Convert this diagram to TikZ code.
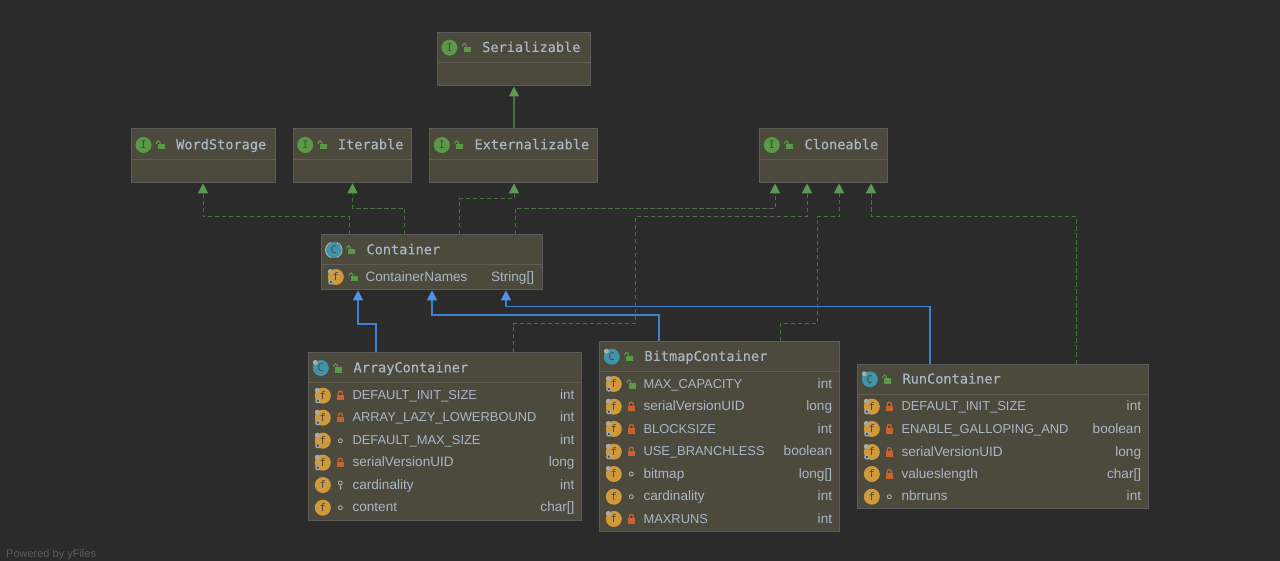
\documentclass[tikz,border=0pt]{standalone}
\usepackage{fontspec}
\setsansfont{Liberation Sans}
\setmonofont{DejaVu Sans Mono}
\newfontfamily\titlefont[FakeBold=0.3]{DejaVu Sans Mono}
\usetikzlibrary{arrows.meta}
\definecolor{canvasbg}{HTML}{2B2B2B}
\definecolor{boxfill}{HTML}{4C493D}
\definecolor{boxline}{HTML}{5C5C5C}
\definecolor{rowline}{HTML}{5F5C50}
\definecolor{labeltext}{HTML}{A9B7C6}
\definecolor{depline}{HTML}{477340}
\definecolor{deptip}{HTML}{5C9A50}
\definecolor{extline}{HTML}{4080D0}
\definecolor{exttip}{HTML}{4D94E8}
\definecolor{fieldorange}{HTML}{D09A3C}
\definecolor{classteal}{HTML}{3F94AC}
\definecolor{ifacegreen}{HTML}{5A9A46}
\definecolor{lockred}{HTML}{C8632F}
\definecolor{markgrey}{HTML}{A8ACA8}
\tikzset{
  umlbox/.style = {draw=boxline, fill=boxfill, line width=1pt, anchor=north west, inner sep=0pt},
  rowsep/.style = {draw=rowline, line width=0.8pt},
  titletext/.style = {text=labeltext, anchor=west, inner sep=0pt, text height=11.5pt, text depth=3pt, font=\titlefont\fontsize{13.6}{14}\selectfont},
  fieldtext/.style = {text=labeltext, anchor=west, inner sep=0pt, text height=11.5pt, text depth=3pt, font=\sffamily\fontsize{13.6}{14}\selectfont},
  typetext/.style = {text=labeltext, anchor=east, inner sep=0pt, text height=11.5pt, text depth=3pt, font=\sffamily\fontsize{13.6}{14}\selectfont},
  iconcirc/.style = {circle, minimum size=16pt, inner sep=0pt, text=boxfill, font=\ttfamily\fontsize{10.5}{10.5}\selectfont},
  dep/.style = {draw=depline, line width=1pt, dash pattern=on 4.5pt off 2.5pt, -{Triangle[width=10pt,length=10pt,color=deptip]}},
  inherit/.style = {draw=depline, line width=1.2pt, -{Triangle[width=10pt,length=10pt,color=deptip]}},
  ext/.style = {draw=extline, line width=1.1pt, -{Triangle[width=10pt,length=10pt,color=exttip]}},
  public/.pic = {
    \fill[ifacegreen] (-2.5,-1) rectangle (4.5,4.5);
    \draw[ifacegreen, line width=1.1pt] (-4,-1) -- (-4,-2.5) arc (180:360:1.8) -- (-0.4,-1);
  },
  private/.pic = {
    \fill[lockred] (-3.5,-1) rectangle (3.5,4.5);
    \draw[lockred, line width=1.3pt] (-2,-1) -- (-2,-2.5) arc (180:360:2) -- (2,-1);
  },
  package/.pic = {
    \draw[markgrey, line width=0.9pt] (0,0) circle (2);
  },
  protect/.pic = {
    \draw[markgrey, line width=0.9pt] (0,-2) circle (2) (0,0) -- (0,4.5) (0,3) -- (1.8,3);
  },
  pinmark/.pic = {
    \fill[markgrey] (-5.5,-5.5) circle (2.5);
  },
  gearmark/.pic = {
    \draw[markgrey, line width=1.3pt, fill=boxfill] (-5,5) circle (2);
  },
  abstractmark/.pic = {
    \draw[markgrey, line width=1pt] (-3,-7.5) arc (-110:-250:8) (3,-7.5) arc (-70:70:8);
  },
}
% header of a box: name, left x, y, icon colour, letter, title
\newcommand{\boxhead}[6]{
  \node[iconcirc, fill=#4] (#1-icon) at (#2+12.5,#3) {#5};
  \pic at (#2+29.5,#3) {public};
  \node[titletext] (#1-title) at (#2+45,#3) {#6};
}
% caps run narrower in the reference's field font
\newcommand{\capname}[1]{\fontsize{12.9}{14}\selectfont #1}
% one field row: box, left x, right x, count, y, marks, visibility, name, type
\newcommand{\fieldrow}[9]{
  \node[iconcirc, fill=fieldorange] (#1-f#4) at (#2+14.5,#5) {f};
  \ifnum#6>0 \pic at (#2+14.5,#5) {pinmark}; \fi
  \ifnum#6>1 \pic at (#2+14.5,#5) {gearmark}; \fi
  \pic at (#2+32,#5) {#7};
  \node[fieldtext] (#1-n#4) at (#2+44,#5) {#8};
  \node[typetext] (#1-t#4) at (#3-7,#5) {#9};
}
\begin{document}
\begin{tikzpicture}[x=1pt, y=-1pt]
    \path[fill=canvasbg, use as bounding box] (0,0) rectangle (1280,561);

    % interfaces
    \node[umlbox, minimum width=152.5pt, minimum height=53.5pt] (serializable) at (437,32) {};
    \node[umlbox, minimum width=143.5pt, minimum height=53.8pt] (wordstorage) at (131,128.5) {};
    \node[umlbox, minimum width=118.5pt, minimum height=53.8pt] (iterable) at (292.7,128.5) {};
    \node[umlbox, minimum width=168pt, minimum height=53.8pt] (externalizable) at (429.3,128.5) {};
    \node[umlbox, minimum width=127.5pt, minimum height=53.8pt] (cloneable) at (759.3,128.5) {};
    \draw[rowsep] (437,62.3) -- (590,62.3);
    \draw[rowsep] (131,159) -- (275,159);
    \draw[rowsep] (292.7,159) -- (411.7,159);
    \draw[rowsep] (429.3,159) -- (597.7,159);
    \draw[rowsep] (759.3,159) -- (887.3,159);
    \boxhead{serializable}{437}{47.7}{ifacegreen}{I}{Serializable}
    \boxhead{wordstorage}{131}{145}{ifacegreen}{I}{WordStorage}
    \boxhead{iterable}{292.7}{145}{ifacegreen}{I}{Iterable}
    \boxhead{externalizable}{429.3}{145}{ifacegreen}{I}{Externalizable}
    \boxhead{cloneable}{759.3}{145}{ifacegreen}{I}{Cloneable}

    % classes
    \node[umlbox, minimum width=220.5pt, minimum height=55pt] (container) at (321.3,234.3) {};
    \node[umlbox, minimum width=273pt, minimum height=167.3pt] (arraybox) at (308.3,352.5) {};
    \node[umlbox, minimum width=240pt, minimum height=189pt] (bitmapbox) at (599.3,341.5) {};
    \node[umlbox, minimum width=291pt, minimum height=144pt] (runbox) at (857.3,364) {};
    \draw[rowsep] (321.3,264.3) -- (541.8,264.3);
    \draw[rowsep] (308.3,382.3) -- (581.3,382.3);
    \draw[rowsep] (599.3,371) -- (839.3,371);
    \draw[rowsep] (857.3,394) -- (1148.3,394);
    \boxhead{container}{321.3}{250}{classteal}{C}{Container}
    \boxhead{arraybox}{308.3}{368}{classteal}{C}{ArrayContainer}
    \boxhead{bitmapbox}{599.3}{356.7}{classteal}{C}{BitmapContainer}
    \boxhead{runbox}{857.3}{379.3}{classteal}{C}{RunContainer}
    \pic at (333.8,250) {abstractmark};
    \pic at (320.8,368) {pinmark};
    \pic at (611.8,356.7) {pinmark};
    \pic at (869.8,379.3) {pinmark};

    % fields
    \fieldrow{container}{321.3}{541.3}{1}{277}{2}{public}{ContainerNames}{String[]}
    \foreach \y/\st/\vis/\fname/\ftype [count=\i] in {
        395.7/2/private/\capname{DEFAULT\_INIT\_SIZE}/int,
        417.7/2/private/\capname{ARRAY\_LAZY\_LOWERBOUND}/int,
        440.7/2/package/\capname{DEFAULT\_MAX\_SIZE}/int,
        462.7/2/private/serialVersionUID/long,
        485/0/protect/cardinality/int,
        507.7/0/package/content/char[]} {
        \fieldrow{arraybox}{308.3}{581.7}{\i}{\y}{\st}{\vis}{\fname}{\ftype}
    }
    \foreach \y/\st/\vis/\fname/\ftype [count=\i] in {
        384/2/public/\capname{MAX\_CAPACITY}/int,
        406.7/2/private/serialVersionUID/long,
        429/2/private/\capname{BLOCKSIZE}/int,
        451.7/2/private/\capname{USE\_BRANCHLESS}/boolean,
        474/1/package/bitmap/long[],
        496.7/0/package/cardinality/int,
        519/1/private/\capname{MAXRUNS}/int} {
        \fieldrow{bitmapbox}{599.3}{839.3}{\i}{\y}{\st}{\vis}{\fname}{\ftype}
    }
    \foreach \y/\st/\vis/\fname/\ftype [count=\i] in {
        406.7/2/private/\capname{DEFAULT\_INIT\_SIZE}/int,
        429/2/private/\capname{ENABLE\_GALLOPING\_AND}/boolean,
        452/2/private/serialVersionUID/long,
        474/0/private/valueslength/char[],
        496.7/0/package/nbrruns/int} {
        \fieldrow{runbox}{857.3}{1148.3}{\i}{\y}{\st}{\vis}{\fname}{\ftype}
    }

    % extends
    \draw[inherit] ([xshift=84.7pt]externalizable.north west) -- ([xshift=77pt]serializable.south west);
    \draw[ext] ([xshift=67.7pt]arraybox.north west) -- ++(0,-28.5) -| ([xshift=36.7pt]container.south west);
    \draw[ext] ([xshift=59.7pt]bitmapbox.north west) -- ++(0,-26.5) -| ([xshift=110.7pt]container.south west);
    \draw[ext] ([xshift=72.7pt]runbox.north west) -- ++(0,-57.3) -| ([xshift=184.7pt]container.south west);

    % implements
    \draw[dep] ([xshift=27.7pt]container.north west) -- ++(0,-17.3) -| ([xshift=72pt]wordstorage.south west);
    \draw[dep] ([xshift=83.4pt]container.north west) -- ++(0,-25.8) -| ([xshift=59.8pt]iterable.south west);
    \draw[dep] ([xshift=137.7pt]container.north west) -- ++(0,-35.3) -| ([xshift=84.7pt]externalizable.south west);
    \draw[dep] ([xshift=193.7pt]container.north west) -- ++(0,-25.8) -| ([xshift=15.7pt]cloneable.south west);
    \draw[dep] ([xshift=204.7pt]arraybox.north west) -- ++(0,-28.5) -- ++(122,0) -- ++(0,-107) -| ([xshift=47.7pt]cloneable.south west);
    \draw[dep] ([xshift=180.7pt]bitmapbox.north west) -- ++(0,-17.5) -- ++(37,0) -- ++(0,-107) -| ([xshift=79.7pt]cloneable.south west);
    \draw[dep] ([xshift=218.7pt]runbox.north west) -- ++(0,-147) -| ([xshift=111.7pt]cloneable.south west);

    \node[anchor=west, inner sep=0pt, text=boxline, font=\sffamily\fontsize{11}{12}\selectfont] (poweredby) at (6,554.5) {Powered by yFiles};
\end{tikzpicture}
\end{document}
